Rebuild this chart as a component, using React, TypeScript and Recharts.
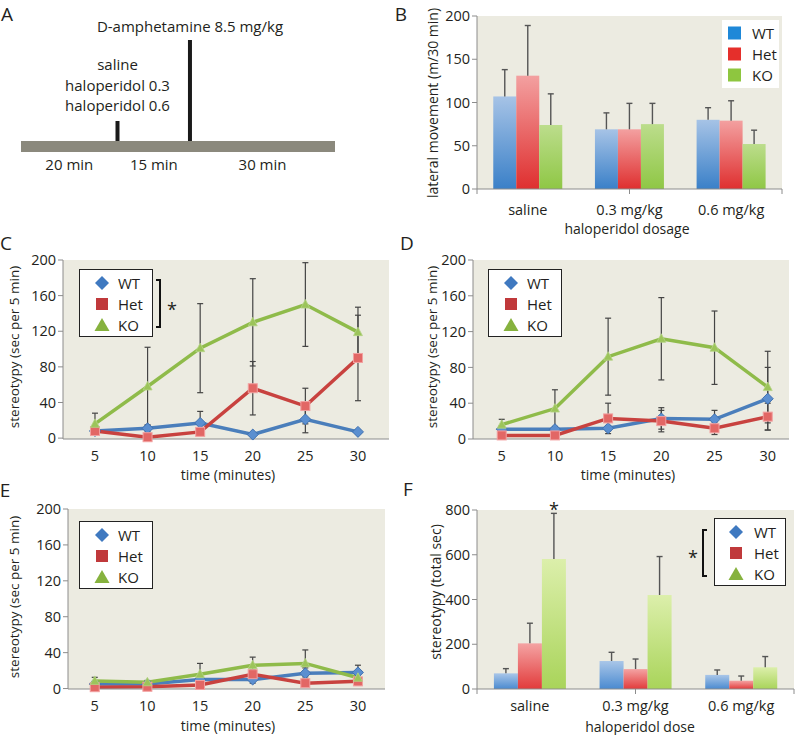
import React from 'react';
import {
  BarChart, Bar, LineChart, Line, ComposedChart, Scatter, XAxis, YAxis, CartesianGrid,
  ErrorBar, Legend,
} from 'recharts';

const FONT = '"Open Sans", "DejaVu Sans", sans-serif';
const PLOT_BG = '#ECEBE1';
const AXIS = '#8c8c8c';
const TEXT = '#231f20';
const ERR = '#444';

// Panel A: protocol timeline, minutes
const phaseNames = ['20 min', '15 min', '30 min'];
const phaseMinutes = [20, 15, 30];
const injectionTimes = [20, 35];
const injectionLabels = [['saline', 'haloperidol 0.3', 'haloperidol 0.6'], ['D-amphetamine 8.5 mg/kg']];

// Panel B: lateral movement (m/30 min)
const doseLabels = ['saline', '0.3 mg/kg', '0.6 mg/kg'];
const moveWT = [107, 69, 80];
const moveWTErr = [31, 19, 14];
const moveHet = [131, 69, 79];
const moveHetErr = [58, 30, 23];
const moveKO = [74, 75, 52];
const moveKOErr = [36, 24, 16];

// Panels C-E: stereotypy per 5 min bin
const TIMES = [5, 10, 15, 20, 25, 30];
const FRAME_TICKS = [7.5, 12.5, 17.5, 22.5, 27.5];

const salWT = [8, 11, 17, 4, 21, 7];
const salWTErr = [2, 4, 13, 2, 15, 2];
const salHet = [8, 1, 7, 56, 36, 90];
const salHetErr = [3, 2, 3, 30, 20, 48];
const salKO = [16, 58, 101, 130, 150, 119];
const salKOErr = [12, 44, 50, 49, 47, 28];

const lowWT = [11, 11, 12, 23, 22, 45];
const lowWTErr = [4, 3, 3, 12, 10, 35];
const lowHet = [4, 4, 23, 20, 12, 25];
const lowHetErr = [2, 2, 17, 12, 7, 15];
const lowKO = [16, 34, 92, 112, 102, 58];
const lowKOErr = [6, 21, 43, 46, 41, 40];

const highWT = [5, 5, 10, 10, 17, 18];
const highWTErr = [3, 2, 4, 4, 6, 8];
const highHet = [1.5, 2, 4, 16, 6, 8];
const highHetErr = [2, 1, 3, 5, 3, 4];
const highKO = [8.5, 7, 16, 26, 28, 12];
const highKOErr = [4, 2, 12, 9, 15, 5];

// Panel F: total stereotypy (sec)
const totWT = [70, 125, 63];
const totWTErr = [21, 39, 22];
const totHet = [204, 89, 37];
const totHetErr = [90, 45, 21];
const totKO = [581, 420, 97];
const totKOErr = [204, 172, 48];

const LINE_WT = '#4a7ebb';
const LINE_HET = '#c8423f';
const LINE_KO = '#8fbb4a';

const tickStyle = { fill: TEXT, fontSize: 14.5, fontFamily: FONT };

type Row = { t: number; WT: number; WTe: number; Het: number; Hete: number; KO: number; KOe: number };
const buildRows = (wt: number[], wtE: number[], het: number[], hetE: number[], ko: number[], koE: number[]): Row[] =>
  TIMES.map((t, i) => ({ t, WT: wt[i], WTe: wtE[i], Het: het[i], Hete: hetE[i], KO: ko[i], KOe: koE[i] }));

const buildDoseRows = (wt: number[], wtE: number[], het: number[], hetE: number[], ko: number[], koE: number[]) =>
  doseLabels.map((dose, i) => ({ dose, WT: wt[i], WTe: wtE[i], Het: het[i], Hete: hetE[i], KO: ko[i], KOe: koE[i] }));

const diamondDot = (p: any) =>
  p.cx == null ? null : (
    <path key={`wt${p.index}`} d={`M${p.cx},${p.cy - 5.5}L${p.cx + 5.5},${p.cy}L${p.cx},${p.cy + 5.5}L${p.cx - 5.5},${p.cy}Z`}
      fill="#5b8fd0" stroke="#3f70b0" strokeWidth={1} />
  );
const squareDot = (p: any) =>
  p.cx == null ? null : (
    <rect key={`het${p.index}`} x={p.cx - 4.5} y={p.cy - 4.5} width={9} height={9} fill="#e26765" stroke="#f2a0a0" strokeWidth={1} />
  );
const triangleDot = (p: any) =>
  p.cx == null ? null : (
    <path key={`ko${p.index}`} d={`M${p.cx},${p.cy - 5}L${p.cx + 4.5},${p.cy + 3.5}L${p.cx - 4.5},${p.cy + 3.5}Z`}
      fill="#9cc45a" stroke="#b5d487" strokeWidth={0.8} />
  );

type MarkerKind = 'diamond' | 'square' | 'triangle' | 'block';
type LegendItem = { name: string; kind: MarkerKind; color: string };

const lineLegend: LegendItem[] = [
  { name: 'WT', kind: 'diamond', color: '#3f79c0' },
  { name: 'Het', kind: 'square', color: '#c0393b' },
  { name: 'KO', kind: 'triangle', color: '#86b23e' },
];
const barLegend: LegendItem[] = [
  { name: 'WT', kind: 'block', color: '#1e88d8' },
  { name: 'Het', kind: 'block', color: '#e52f2b' },
  { name: 'KO', kind: 'block', color: '#8ec63f' },
];

function Marker({ kind, color, cx }: { kind: MarkerKind; color: string; cx: number }) {
  const cy = 10;
  if (kind === 'diamond') return <path d={`M${cx},${cy - 7}L${cx + 7},${cy}L${cx},${cy + 7}L${cx - 7},${cy}Z`} fill={color} />;
  if (kind === 'square') return <rect x={cx - 6} y={cy - 6} width={12} height={12} fill={color} />;
  if (kind === 'triangle') return <path d={`M${cx},${cy - 7}L${cx + 7.5},${cy + 6}L${cx - 7.5},${cy + 6}Z`} fill={color} />;
  return <rect x={cx - 6.5} y={cy - 6.5} width={13} height={13} fill={color} />;
}

function LegendBox({ items, width, markerX, textX, framed }: { items: LegendItem[]; width: number; markerX: number; textX: number; framed: boolean }) {
  return (
    <div style={{
      width, height: 68, boxSizing: 'border-box', border: framed ? '1.5px solid #222' : 'none',
      background: '#fff', paddingTop: 2, fontFamily: FONT, fontSize: 15, color: TEXT,
    }}>
      {items.map((it) => (
        <div key={it.name} style={{ height: 21.3, display: 'flex', alignItems: 'center' }}>
          <svg width={textX} height={20} style={{ flex: 'none' }}>
            <Marker kind={it.kind} color={it.color} cx={markerX} />
          </svg>
          <span>{it.name}</span>
        </div>
      ))}
    </div>
  );
}

type Margin = { top: number; right: number; left: number; bottom: number };

function TimePanel({ left, top, height, margin, domain, data, legendAt }: {
  left: number; top: number; height: number; margin: Margin; domain: [number, number]; data: Row[]; legendAt: [number, number];
}) {
  return (
    <div style={{ position: 'absolute', left, top }}>
      <LineChart width={400} height={height} data={data} margin={margin}>
        <CartesianGrid xAxisId="lab" fill={PLOT_BG} stroke="none" horizontal={false} vertical={false} />
        <XAxis xAxisId="frame" type="number" domain={domain} allowDataOverflow ticks={FRAME_TICKS}
          tickFormatter={() => ''} height={5} tickSize={5} stroke={AXIS} interval={0} />
        <XAxis xAxisId="lab" type="number" dataKey="t" domain={domain} allowDataOverflow ticks={TIMES}
          axisLine={false} tickLine={false} tickSize={0} tickMargin={7} height={25} tick={tickStyle} interval={0} />
        <YAxis domain={[0, 200]} ticks={[0, 40, 80, 120, 160, 200]} width={40} tickSize={5} stroke={AXIS} tick={tickStyle} interval={0} />
        <Line xAxisId="lab" dataKey="WT" stroke={LINE_WT} strokeWidth={3.5} dot={diamondDot} activeDot={false} isAnimationActive={false}>
          <ErrorBar dataKey="WTe" direction="y" width={3} stroke={ERR} strokeWidth={1.2} />
        </Line>
        <Line xAxisId="lab" dataKey="Het" stroke={LINE_HET} strokeWidth={3.5} dot={squareDot} activeDot={false} isAnimationActive={false}>
          <ErrorBar dataKey="Hete" direction="y" width={3} stroke={ERR} strokeWidth={1.2} />
        </Line>
        <Line xAxisId="lab" dataKey="KO" stroke={LINE_KO} strokeWidth={3.5} dot={triangleDot} activeDot={false} isAnimationActive={false}>
          <ErrorBar dataKey="KOe" direction="y" width={3} stroke={ERR} strokeWidth={1.2} />
        </Line>
        <Legend layout="vertical" align="center" verticalAlign="middle"
          wrapperStyle={{ left: legendAt[0], top: legendAt[1], width: 74 }}
          content={() => <LegendBox items={lineLegend} width={74} markerX={22} textX={38} framed />} />
      </LineChart>
    </div>
  );
}

type Grad = { id: string; top: string; bottom: string };

const gradBar = (fillId: string, key: string, errKey: string) => (p: any) => {
  const { x, y, width, height, payload } = p;
  const v = payload[key];
  const k = v > 0 ? height / v : 0;
  const errTop = y - payload[errKey] * k;
  const cx = x + width / 2;
  return (
    <g>
      <rect x={x} y={y} width={width} height={height} fill={`url(#${fillId})`} />
      <line x1={cx} y1={y} x2={cx} y2={errTop} stroke="#555" strokeWidth={1.4} />
      <line x1={cx - 3} y1={errTop} x2={cx + 3} y2={errTop} stroke="#555" strokeWidth={1.4} />
    </g>
  );
};

function DosePanel({ left, top, height, margin, data, yMax, yTicks, grads, legendAt, legend, labelGap }: {
  left: number; top: number; height: number; margin: Margin; data: any[]; yMax: number; yTicks: number[];
  grads: Grad[]; legendAt: [number, number]; legend: React.ReactNode; labelGap: number;
}) {
  const keys = ['WT', 'Het', 'KO'];
  return (
    <div style={{ position: 'absolute', left, top }}>
      <BarChart width={400} height={height} data={data} margin={margin} barCategoryGap="16%" barGap={0}>
        <defs>
          {grads.map((g) => (
            <linearGradient key={g.id} id={g.id} x1="0" y1="0" x2="0" y2="1">
              <stop offset="0%" stopColor={g.top} />
              <stop offset="100%" stopColor={g.bottom} />
            </linearGradient>
          ))}
        </defs>
        <CartesianGrid xAxisId="lab" fill={PLOT_BG} stroke="none" horizontal={false} vertical={false} />
        <XAxis xAxisId="frame" type="number" domain={[0, 3]} allowDataOverflow ticks={[0, 1, 2, 3]}
          tickFormatter={() => ''} height={5} tickSize={5} stroke={AXIS} interval={0} />
        <XAxis xAxisId="lab" dataKey="dose" axisLine={false} tickLine={false} tickSize={0} tickMargin={labelGap}
          height={25} tick={tickStyle} interval={0} />
        <YAxis domain={[0, yMax]} ticks={yTicks} width={50} tickSize={5} stroke={AXIS} tick={tickStyle} interval={0} />
        {keys.map((k, i) => (
          <Bar key={k} xAxisId="lab" dataKey={k} isAnimationActive={false} shape={gradBar(grads[i].id, k, `${k}e`)} />
        ))}
        <Legend layout="vertical" align="center" verticalAlign="middle"
          wrapperStyle={{ left: legendAt[0], top: legendAt[1] }} content={() => legend} />
      </BarChart>
    </div>
  );
}

// schematic heights (chart units) for the timeline band and injection marks
const BAND_LOW = 23;
const BAND_HIGH = 34;
const MARK_HEIGHTS = [20, 101];

function TimelinePanel() {
  const starts = phaseMinutes.map((_, i) => phaseMinutes.slice(0, i).reduce((a, b) => a + b, 0));
  const total = phaseMinutes.reduce((a, b) => a + b, 0);
  const band = [{ t: 0, y: (BAND_LOW + BAND_HIGH) / 2 }, { t: total, y: (BAND_LOW + BAND_HIGH) / 2 }];
  const phases = phaseNames.map((name, i) => ({ t: starts[i] + phaseMinutes[i] / 2, y: BAND_LOW, name }));
  const marks = injectionTimes.map((t, i) => ({ t, mark: [BAND_HIGH, BAND_HIGH + MARK_HEIGHTS[i]], lines: injectionLabels[i] }));
  const markShape = (p: any) => {
    const { x, y, width, height, payload } = p;
    const cx = x + width / 2;
    const lines: string[] = payload.lines;
    const gap = lines.length > 1 ? 10 : 8.3;
    return (
      <g>
        <rect x={x} y={y} width={width} height={height} fill="#1a1a1a" />
        {lines.map((s, j) => (
          <text key={s} x={cx} y={y - gap - (lines.length - 1 - j) * 20.5} textAnchor="middle"
            fill={TEXT} fontSize={15} fontFamily={FONT}>{s}</text>
        ))}
      </g>
    );
  };
  const phaseLabel = (p: any) => (
    <text x={p.cx} y={p.cy + 18} textAnchor="middle" fill={TEXT} fontSize={15} fontFamily={FONT}>{p.payload.name}</text>
  );
  return (
    <div style={{ position: 'absolute', left: 0, top: 0 }}>
      <ComposedChart width={400} height={175} data={marks} margin={{ top: 0, right: 65, left: 21, bottom: 0 }}>
        <XAxis type="number" dataKey="t" domain={[0, total]} allowDataOverflow hide />
        <YAxis type="number" dataKey="y" domain={[0, 175]} allowDataOverflow hide />
        <Line data={band} dataKey="y" stroke="#8b897d" strokeWidth={11} dot={false} activeDot={false} isAnimationActive={false} />
        <Bar dataKey="mark" barSize={4} isAnimationActive={false} shape={markShape} />
        <Scatter data={phases} dataKey="y" shape={phaseLabel} isAnimationActive={false} />
      </ComposedChart>
    </div>
  );
}

function Overlay() {
  const letter = { fontSize: 19, fontFamily: FONT, fill: TEXT, textAnchor: 'middle' as const };
  const title = { fontSize: 14, fontFamily: FONT, fill: TEXT, textAnchor: 'middle' as const };
  const ytitle = (x: number, y: number, s: string, fs = 14) => (
    <text x={x} y={y} dy="0.35em" transform={`rotate(-90 ${x} ${y})`} style={{ ...title, fontSize: fs }}>{s}</text>
  );
  const xtitle = (x: number, y: number, s: string) => (
    <text x={x} y={y} dy="0.35em" style={title}>{s}</text>
  );
  return (
    <svg width={800} height={735} style={{ position: 'absolute', left: 0, top: 0, pointerEvents: 'none' }}>
      <text x={7} y={20.5} style={letter}>A</text>
      <text x={401} y={20.5} style={letter}>B</text>
      <text x={6} y={250} style={letter}>C</text>
      <text x={407} y={250} style={letter}>D</text>
      <text x={5} y={497} style={letter}>E</text>
      <text x={408} y={496} style={letter}>F</text>

      {ytitle(433, 103, 'lateral movement (m/30 min)')}
      {xtitle(627, 229, 'haloperidol dosage')}
      {ytitle(14, 347, 'stereotypy (sec per 5 min)', 13.5)}
      {xtitle(228, 475, 'time (minutes)')}
      {ytitle(432, 347, 'stereotypy (sec per 5 min)', 13.5)}
      {xtitle(628, 475, 'time (minutes)')}
      {ytitle(14, 597, 'stereotypy (sec per 5 min)', 13.5)}
      {xtitle(228, 726, 'time (minutes)')}
      {ytitle(436, 592, 'stereotypy (total sec)')}
      {xtitle(640, 727, 'haloperidol dose')}

      <path d="M156,280 H160 V327 H156" stroke="#111" strokeWidth={2} fill="none" />
      <text x={172} y={315.5} style={{ ...title, fontSize: 18 }}>*</text>
      <path d="M707,530 H703 V576 H707" stroke="#111" strokeWidth={2} fill="none" />
      <text x={693} y={563.5} style={{ ...title, fontSize: 18 }}>*</text>
      <text x={554} y={515.5} style={{ ...title, fontSize: 18 }}>*</text>
    </svg>
  );
}

export default function App() {
  const moveRows = buildDoseRows(moveWT, moveWTErr, moveHet, moveHetErr, moveKO, moveKOErr);
  const totRows = buildDoseRows(totWT, totWTErr, totHet, totHetErr, totKO, totKOErr);
  const gradsB: Grad[] = [
    { id: 'bWT', top: '#a6c3e6', bottom: '#3a80c8' },
    { id: 'bHet', top: '#f3a0a0', bottom: '#df2f2f' },
    { id: 'bKO', top: '#bcdd8c', bottom: '#8fc745' },
  ];
  const gradsF: Grad[] = [
    { id: 'fWT', top: '#a9c6e8', bottom: '#4a8ad0' },
    { id: 'fHet', top: '#f4a3a3', bottom: '#e23b3b' },
    { id: 'fKO', top: '#dcefab', bottom: '#a9d45a' },
  ];
  return (
    <div style={{ position: 'absolute', left: 0, top: 0, width: 800, height: 735, background: '#fff', fontFamily: FONT }}>
      <TimelinePanel />
      <DosePanel left={400} top={0} height={240} margin={{ top: 16, right: 18, left: 27, bottom: 21 }}
        data={moveRows} yMax={200} yTicks={[0, 50, 100, 150, 200]} grads={gradsB} legendAt={[322, 20]} labelGap={11}
        legend={<LegendBox items={barLegend} width={57} markerX={12.5} textX={30} framed={false} />} />
      <TimePanel left={0} top={240} height={240} margin={{ top: 20, right: 11, left: 23, bottom: 11 }}
        domain={[1.96, 32.95]} data={buildRows(salWT, salWTErr, salHet, salHetErr, salKO, salKOErr)} legendAt={[79, 29]} />
      <TimePanel left={400} top={240} height={240} margin={{ top: 20, right: 11, left: 33, bottom: 11 }}
        domain={[2.3, 32]} data={buildRows(lowWT, lowWTErr, lowHet, lowHetErr, lowKO, lowKOErr)} legendAt={[88, 29]} />
      <TimePanel left={0} top={480} height={255} margin={{ top: 29, right: 15, left: 28, bottom: 16 }}
        domain={[2.46, 32.57]} data={buildRows(highWT, highWTErr, highHet, highHetErr, highKO, highKOErr)} legendAt={[79, 41]} />
      <DosePanel left={400} top={480} height={255} margin={{ top: 30, right: 6, left: 27, bottom: 16 }}
        data={totRows} yMax={800} yTicks={[0, 200, 400, 600, 800]} grads={gradsF} legendAt={[314, 38]} labelGap={7}
        legend={<LegendBox items={lineLegend} width={72} markerX={21} textX={39} framed />} />
      <Overlay />
    </div>
  );
}
